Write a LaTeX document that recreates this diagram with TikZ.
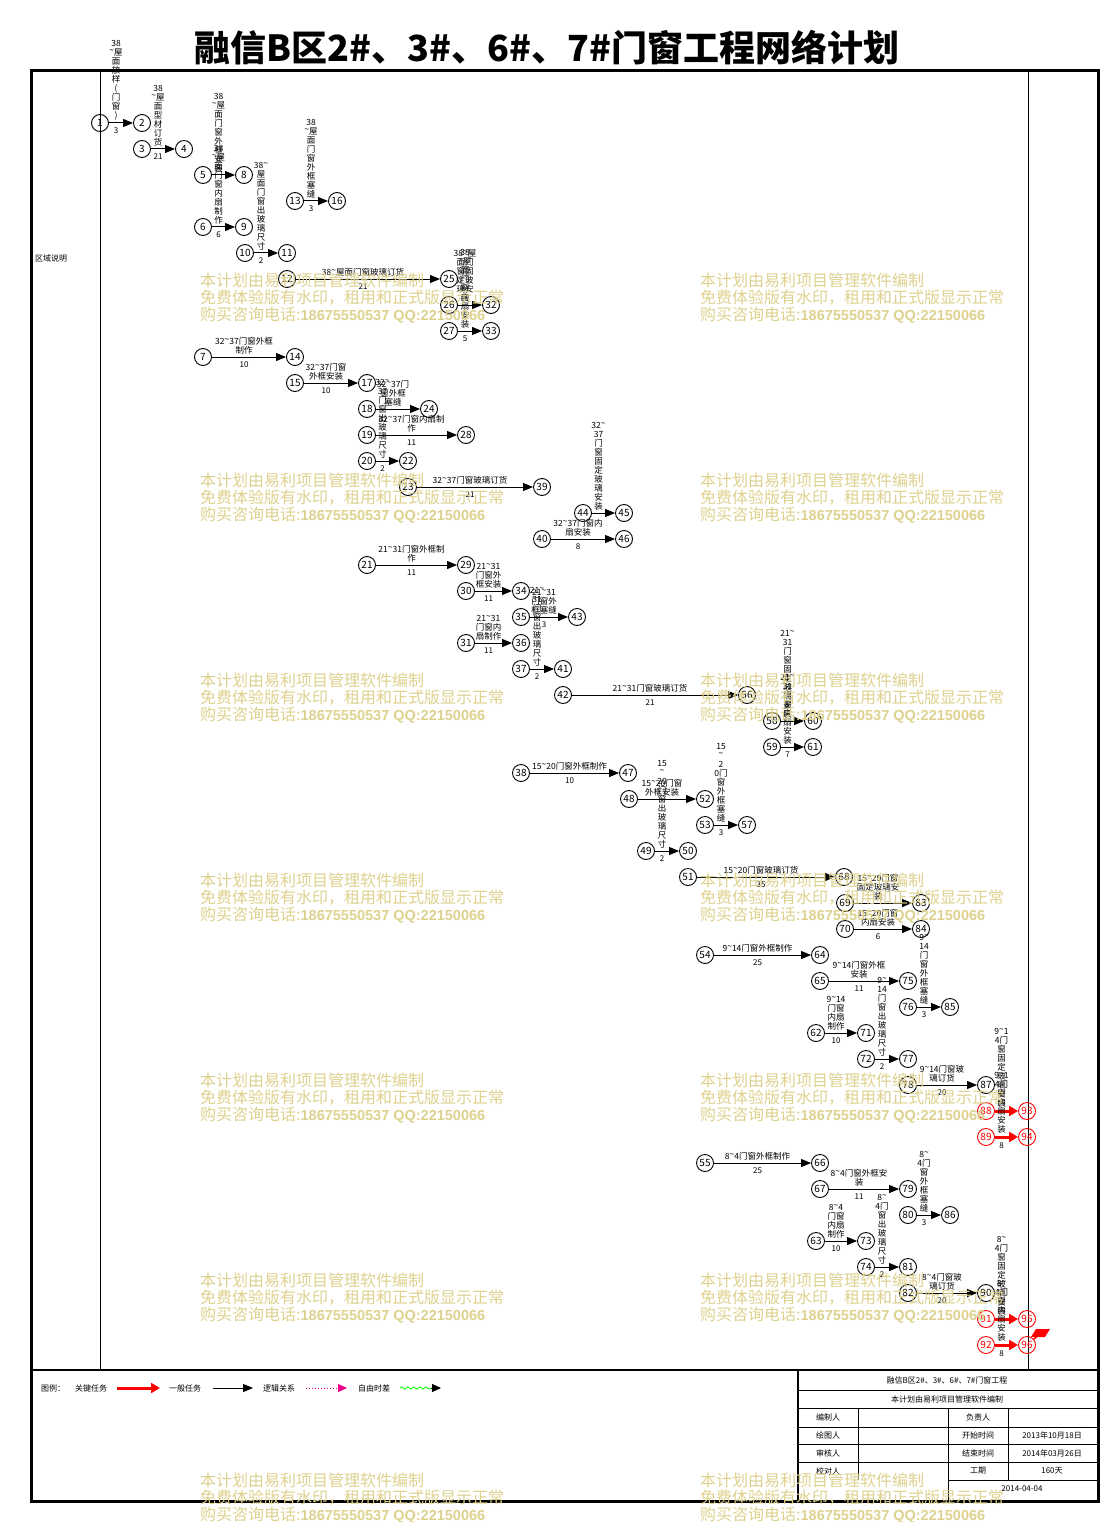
\documentclass[tikz,border=0pt]{standalone}
\usepackage{fontspec}
\setmainfont{Noto Sans CJK SC}
\newfontfamily\wmlat{Liberation Sans}
\usetikzlibrary{arrows.meta,decorations.pathmorphing}
\newcommand\mytil{\raisebox{0.25em}{\textasciitilde}}
\definecolor{wmc}{RGB}{221,209,142}
\newcommand\tk[5][]{\draw[arr,#1] (n#2) -- (n#3) node[lab,midway] (l#2-#3) {#4} node[dur,midway] (d#2-#3) {#5};}
\newcommand\tkn[4][]{\draw[arr,#1] (n#2) -- (n#3) node[lab,midway] (l#2-#3) {#4};}
\begin{document}
\begin{tikzpicture}[x=1pt,y=-1pt,
  cir/.style={circle,draw,line width=0.9pt,minimum size=17pt,inner sep=0pt,font=\fontsize{10}{10}\selectfont},
  rcir/.style={cir,draw=red,text=red},
  arr/.style={draw=black,line width=1pt,-{Triangle[length=10pt,width=8pt]}},
  crit/.style={draw=red,line width=3pt,-{Triangle[length=9pt,width=10pt]}},
  lab/.style={anchor=south,yshift=2pt,xshift=-5pt,align=center,inner sep=0pt,font=\fontsize{8.5}{9}\selectfont},
  dur/.style={anchor=north,yshift=-4.5pt,xshift=-5pt,inner sep=0pt,font=\fontsize{8}{9}\selectfont},
  leg/.style={inner sep=0pt,font=\fontsize{8}{9}\selectfont},
  tb/.style={inner sep=0pt,font=\fontsize{8}{9}\selectfont},
  wm/.style={anchor=west,inner sep=0pt,text=wmc,font=\fontsize{16}{16}\selectfont}]
\useasboundingbox (0,0) rectangle (1102,1522);
% title
\node[inner sep=0pt,font=\fontsize{36}{36}\selectfont\bfseries] (title) at (547,48) {融信B区2\#、3\#、6\#、7\#门窗工程网络计划};
% frame
\draw[line width=3pt] (31,71) rectangle (1098,1501);
\draw[line width=2.5pt] (31,1370) -- (1098,1370);
\draw[line width=1pt] (100,71) -- (100,1370);
\draw[line width=1pt] (1028,71) -- (1028,1370);
\node[leg] (zone) at (51,258) {区域说明};
% nodes
\foreach \n/\x/\y in {1/100/123, 2/142/123, 3/142/149, 4/184/149, 5/203/175, 8/244/175, 6/203/227, 9/244/227, 10/245/253, 11/287/253, 13/295/201, 16/337/201, 12/287/279, 25/449/279, 26/449/305, 32/491/305, 27/449/331, 33/491/331, 7/203/357, 14/295/357, 15/295/383, 17/367/383, 18/367/409, 24/429/409, 19/367/435, 28/466/435, 20/367/461, 22/408/461, 23/408/487, 39/542/487, 44/583/513, 45/624/513, 40/542/539, 46/624/539, 21/367/565, 29/466/565, 30/466/591, 34/521/591, 35/521/617, 43/577/617, 31/466/643, 36/521/643, 37/521/669, 41/563/669, 42/563/695, 56/747/695, 58/772/721, 60/813/721, 59/772/747, 61/813/747, 38/521/773, 47/628/773, 48/629/799, 52/705/799, 53/705/825, 57/747/825, 49/646/851, 50/688/851, 51/688/877, 68/844/877, 69/845/903, 83/921/903, 70/845/929, 84/921/929, 54/705/955, 64/820/955, 65/820/981, 75/908/981, 76/908/1007, 85/950/1007, 62/816/1033, 71/866/1033, 72/866/1059, 77/908/1059, 78/908/1085, 87/986/1085, 55/705/1163, 66/820/1163, 67/820/1189, 79/908/1189, 80/908/1215, 86/950/1215, 63/816/1241, 73/866/1241, 74/866/1267, 81/908/1267, 82/908/1293, 90/986/1293}
  \node[cir] (n\n) at (\x,\y) {\n};
\foreach \n/\x/\y in {88/986/1111, 93/1027/1111, 89/986/1137, 94/1027/1137, 91/986/1319, 95/1027/1319, 92/986/1345, 96/1027/1345}
  \node[rcir] (n\n) at (\x,\y) {\n};
% tasks
\tk{1}{2}{38\\\mytil{}屋\\面\\放\\样\\(\\门\\窗\\)}{3}
\tk{3}{4}{38\\\mytil{}屋\\面\\型\\材\\订\\货}{21}
\tkn{5}{8}{38\\\mytil{}屋\\面\\门\\窗\\外\\框\\安\\装}
\tk{6}{9}{38\\\mytil{}屋\\面\\门\\窗\\内\\扇\\制\\作}{6}
\tk{10}{11}{38\mytil{}\\屋\\面\\门\\窗\\出\\玻\\璃\\尺\\寸}{2}
\tk{13}{16}{38\\\mytil{}屋\\面\\门\\窗\\外\\框\\塞\\缝}{3}
\tk{12}{25}{38\mytil{}屋面门窗玻璃订货}{21}
\tkn{26}{32}{38\mytil{}屋\\面门\\窗固\\定玻\\璃安\\装}
\tk{27}{33}{38\\\mytil{}屋\\面\\门\\窗\\内\\扇\\安\\装}{5}
\tk{7}{14}{32\mytil{}37门窗外框\\制作}{10}
\tk{15}{17}{32\mytil{}37门窗\\外框安装}{10}
\tkn{18}{24}{32\mytil{}37门\\窗外框\\塞缝}
\tk{19}{28}{32\mytil{}37门窗内扇制\\作}{11}
\tk{20}{22}{32\mytil{}\\37\\门\\窗\\出\\玻\\璃\\尺\\寸}{2}
\tk{23}{39}{32\mytil{}37门窗玻璃订货}{21}
\tkn{44}{45}{32\mytil{}\\37\\门\\窗\\固\\定\\玻\\璃\\安\\装}
\tk{40}{46}{32\mytil{}37门窗内\\扇安装}{8}
\tk{21}{29}{21\mytil{}31门窗外框制\\作}{11}
\tk{30}{34}{21\mytil{}31\\门窗外\\框安装}{11}
\tk{35}{43}{21\mytil{}31\\门窗外\\框塞缝}{3}
\tk{31}{36}{21\mytil{}31\\门窗内\\扇制作}{11}
\tk{37}{41}{21\mytil{}\\31\\门\\窗\\出\\玻\\璃\\尺\\寸}{2}
\tk{42}{56}{21\mytil{}31门窗玻璃订货}{21}
\tkn{58}{60}{21\mytil{}\\31\\门\\窗\\固\\定\\玻\\璃\\安\\装}
\tk{59}{61}{21\mytil{}\\31\\门\\窗\\内\\扇\\安\\装}{7}
\tk{38}{47}{15\mytil{}20门窗外框制作}{10}
\tkn{48}{52}{15\mytil{}20门窗\\外框安装}
\tk{49}{50}{15\\\mytil{}\\20\\门\\窗\\出\\玻\\璃\\尺\\寸}{2}
\tk{53}{57}{15\\\mytil{}\\2\\0门\\窗\\外\\框\\塞\\缝}{3}
\tk{51}{68}{15\mytil{}20门窗玻璃订货}{35}
\tkn{69}{83}{15\mytil{}20门窗\\固定玻璃安\\装}
\tk{70}{84}{15\mytil{}20门窗\\内扇安装}{6}
\tk{54}{64}{9\mytil{}14门窗外框制作}{25}
\tk{65}{75}{9\mytil{}14门窗外框\\安装}{11}
\tk{62}{71}{9\mytil{}14\\门窗\\内扇\\制作}{10}
\tk{72}{77}{9\mytil{}\\14\\门\\窗\\出\\玻\\璃\\尺\\寸}{2}
\tk{76}{85}{9\mytil{}\\14\\门\\窗\\外\\框\\塞\\缝}{3}
\tk{78}{87}{9\mytil{}14门窗玻\\璃订货}{20}
\tkn[crit]{88}{93}{9\mytil{}1\\4门\\窗\\固\\定\\玻\\璃\\安\\装}
\tk[crit]{89}{94}{9\mytil{}1\\4门\\窗\\内\\扇\\安\\装}{8}
\tk{55}{66}{8\mytil{}4门窗外框制作}{25}
\tk{67}{79}{8\mytil{}4门窗外框安\\装}{11}
\tk{80}{86}{8\mytil{}\\4门\\窗\\外\\框\\塞\\缝}{3}
\tk{63}{73}{8\mytil{}4\\门窗\\内扇\\制作}{10}
\tk{74}{81}{8\mytil{}\\4门\\窗\\出\\玻\\璃\\尺\\寸}{2}
\tk{82}{90}{8\mytil{}4门窗玻\\璃订货}{20}
\tkn[crit]{91}{95}{8\mytil{}\\4门\\窗\\固\\定\\玻\\璃\\安\\装}
\tk[crit]{92}{96}{8\mytil{}\\4门\\窗\\内\\扇\\安\\装}{8}
% red flag
\coordinate (flg) at (1041,1333);
\draw[red,line width=1.5pt] (n96) -- (flg);
\fill[red] (1036,1329) -- (1050,1329) -- (1045,1337) -- (1031,1337) -- cycle;
% legend
\node[leg] (lg1) at (53,1388) {图例：};
\node[leg] (lg2) at (91,1388) {关键任务};
\coordinate (la1) at (117,1388); \coordinate (la2) at (160,1388);
\draw[crit] (la1) -- (la2);
\node[leg] (lg3) at (185,1388) {一般任务};
\coordinate (lb1) at (213,1388); \coordinate (lb2) at (253,1388);
\draw[arr] (lb1) -- (lb2);
\node[leg] (lg4) at (279,1388) {逻辑关系};
\coordinate (lc1) at (306,1388); \coordinate (lc2) at (347,1388);
\draw[magenta,dotted,line width=1pt,-{Triangle[length=9pt,width=8pt]}] (lc1) -- (lc2);
\node[leg] (lg5) at (374,1388) {自由时差};
\coordinate (ld1) at (400,1388); \coordinate (ld2) at (431,1388); \coordinate (ld3) at (441,1388);
\draw[green,line width=0.8pt,decorate,decoration={snake,amplitude=1.2pt,segment length=6pt}] (ld1) -- (ld2);
\draw[black,line width=1pt,-{Triangle[length=9pt,width=8pt]}] (ld2) -- (ld3);
% title block
\draw[line width=1.2pt] (798,1370) -- (798,1501);
\foreach \y in {1390,1408,1427,1444,1462} \draw[line width=0.8pt] (798,\y) -- (1097,\y);
\draw[line width=0.8pt] (948,1480) -- (1097,1480);
\draw[line width=0.8pt] (858,1408) -- (858,1480);
\draw[line width=0.8pt] (948,1408) -- (948,1501);
\draw[line width=0.8pt] (1008,1408) -- (1008,1480);
\node[tb] (t1) at (947,1380) {融信B区2\#、3\#、6\#、7\#门窗工程};
\node[tb] (t2) at (947,1399) {本计划由易利项目管理软件编制};
\node[tb] (t3) at (828,1417) {编制人};
\node[tb] (t4) at (978,1417) {负责人};
\node[tb] (t5) at (828,1435) {绘图人};
\node[tb] (t6) at (978,1435) {开始时间};
\node[tb] (t7) at (1052,1435) {2013年10月18日};
\node[tb] (t8) at (828,1453) {审核人};
\node[tb] (t9) at (978,1453) {结束时间};
\node[tb] (t10) at (1052,1453) {2014年03月26日};
\node[tb] (t11) at (828,1471) {校对人};
\node[tb] (t12) at (978,1471) {工期};
\node[tb] (t13) at (1052,1471) {160天};
\node[tb] (t14) at (1022,1489) {2014-04-04};
% watermark
\foreach \yy in {280,480,680,880,1080,1280,1480}{
 \foreach \xx in {200,700}{
  \node[wm] (wa\xx-\yy) at (\xx,\yy) {本计划由易利项目管理软件编制};
  \node[wm] (wb\xx-\yy) at (\xx,\yy+17.5) {免费体验版有水印，租用和正式版显示正常};
  \node[wm] (wc\xx-\yy) at (\xx,\yy+35) {购买咨询电话:{\wmlat\bfseries\fontsize{14.5}{16}\selectfont 18675550537 QQ:22150066}};
 }}
\end{tikzpicture}
\end{document}
